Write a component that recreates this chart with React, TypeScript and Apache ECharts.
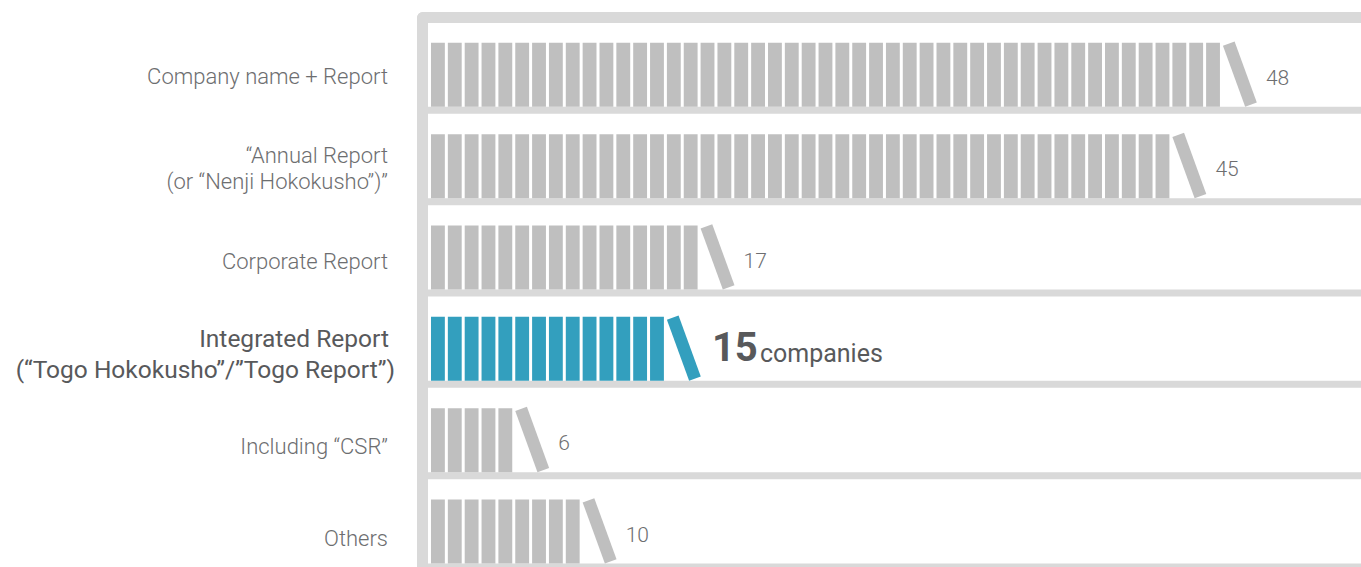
import React, { useEffect, useRef } from "react";
import * as echarts from "echarts";

const categories = [
  "Company name + Report",
  "“Annual Report\n(or “Nenji Hokokusho”)”",
  "Corporate Report",
  "Integrated Report \n(“Togo Hokokusho”/”Togo Report”)",
  "Including “CSR”",
  "Others",
];
const values = [48, 45, 17, 15, 6, 10];
const highlightIndex = 3;
const unitLabel = "companies";

const FONT = "Roboto";
const GRAY_BOOK = "#bfbfbf";
const TEAL_BOOK = "#339fbe";
const SHELF = "#d9d9d9";

export default function App() {
  const ref = useRef<HTMLDivElement>(null);
  useEffect(() => {
    if (!ref.current) return;
    const chart = echarts.init(ref.current, null, { renderer: "svg" });
    const unitPx = 16.85;
    const gridLeft = 428;
    const xMax = (1361 - gridLeft) / unitPx;

    const renderItem = (params: any, api: any) => {
      const v = api.value(0);
      const idx = api.value(1);
      const hl = idx === highlightIndex;
      const bandH = api.size([0, 1])[1];
      const center = api.coord([0, idx]);
      const shelfC = center[1] + bandH / 2;
      const sb = shelfC - 3.5;
      const unit = api.size([1, 0])[0];
      const fill = hl ? TEAL_BOOK : GRAY_BOOK;
      const bookH = 64;
      const children: any[] = [];
      children.push({
        type: "rect",
        shape: { x: params.coordSys.x, y: shelfC - 3.5, width: params.coordSys.width, height: 7 },
        style: { fill: SHELF },
      });
      for (let i = 0; i < v - 1; i++) {
        const x = api.coord([i, idx])[0] + 3;
        children.push({
          type: "rect",
          shape: { x, y: sb - bookH, width: unit - 3, height: bookH },
          style: { fill },
        });
      }
      const sx = api.coord([v - 1, idx])[0] + 3;
      const L = 65;
      const w = 12.4;
      const th = (20 * Math.PI) / 180;
      const blx = sx + L * Math.sin(th);
      const bly = sb;
      const tlx = blx - L * Math.sin(th);
      const tly = bly - L * Math.cos(th);
      const dx = w * Math.cos(th);
      const dy = -w * Math.sin(th);
      children.push({
        type: "polygon",
        shape: {
          points: [
            [blx, bly],
            [blx + dx, bly + dy],
            [tlx + dx, tly + dy],
            [tlx, tly],
          ],
        },
        style: { fill },
      });
      if (hl) {
        children.push({
          type: "text",
          style: {
            text: String(v),
            x: sx + 45,
            y: sb - 33,
            fill: "#58595b",
            fontSize: 40,
            fontWeight: "bold",
            fontFamily: FONT,
            align: "left",
            verticalAlign: "middle",
          },
        });
        children.push({
          type: "text",
          style: {
            text: unitLabel,
            x: sx + 45 + 48,
            y: sb - 27.5,
            fill: "#58595b",
            fontSize: 25,
            fontFamily: FONT,
            align: "left",
            verticalAlign: "middle",
          },
        });
      } else {
        children.push({
          type: "text",
          style: {
            text: String(v),
            x: sx + 43,
            y: sb - 29,
            fill: "#6d6e70",
            fontSize: 21,
            fontWeight: 300,
            fontFamily: FONT,
            align: "left",
            verticalAlign: "middle",
          },
        });
      }
      return { type: "group", children };
    };

    const hidden = { show: false };
    chart.setOption({
      animation: false,
      grid: [
        { left: gridLeft, right: 0, top: 19, height: 548, outerBoundsMode: "none" },
        { left: gridLeft, right: 0, top: 30, height: 555, outerBoundsMode: "none" },
      ],
      xAxis: [
        { type: "value", min: 0, max: xMax, show: false, gridIndex: 0 },
        { type: "value", min: 0, max: xMax, show: false, gridIndex: 1 },
      ],
      yAxis: [
        {
          type: "category",
          gridIndex: 0,
          inverse: true,
          data: categories,
          axisLine: hidden,
          axisTick: hidden,
          splitLine: hidden,
          axisLabel: hidden,
        },
        {
          type: "category",
          gridIndex: 1,
          inverse: true,
          data: categories.map((c, i) =>
            i === highlightIndex
              ? {
                  value: c,
                  textStyle: {
                    fontSize: 24.5,
                    fontWeight: 400,
                    color: "#58595b",
                    lineHeight: 31,
                    padding: [0, -7, 0, 0],
                  },
                }
              : c
          ),
          axisLine: hidden,
          axisTick: hidden,
          splitLine: hidden,
          axisLabel: {
            fontFamily: FONT,
            fontSize: 22,
            fontWeight: 300,
            color: "#6d6e70",
            lineHeight: 26,
            margin: 40,
            align: "right",
          },
        },
      ],
      graphic: [
        { type: "rect", shape: { x: 417, y: 12, width: 1000, height: 11, r: [6, 0, 0, 0] }, style: { fill: SHELF } },
        { type: "rect", shape: { x: 417, y: 12, width: 11, height: 600, r: [6, 0, 0, 0] }, style: { fill: SHELF } },
      ],
      series: [
        {
          type: "custom",
          xAxisIndex: 0,
          yAxisIndex: 0,
          renderItem,
          data: values.map((v, i) => [v, i]),
          encode: { x: 0, y: 1 },
          clip: false,
        },
      ],
    });
    return () => chart.dispose();
  }, []);
  return <div ref={ref} style={{ position: "absolute", left: 0, top: 0, width: 1361, height: 567 }} />;
}
